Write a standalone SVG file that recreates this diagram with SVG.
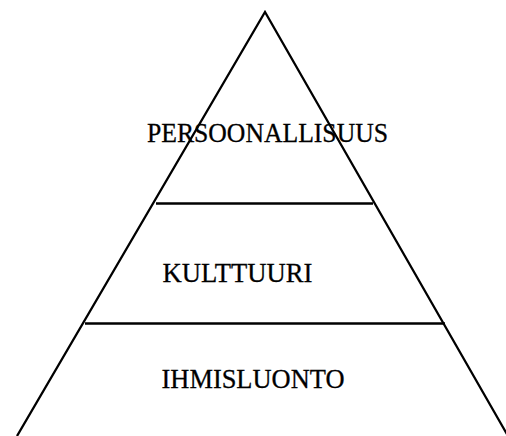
<svg xmlns="http://www.w3.org/2000/svg" width="506" height="436" viewBox="0 0 506 436">
<style>
.ln{stroke:#000;stroke-width:2.3;fill:none}
.t{font-family:"Liberation Serif","Times New Roman",serif;font-size:28px;fill:#000;stroke:#000;stroke-width:0.3}
</style>
<rect width="506" height="436" fill="#fff"/>
<g id="connectors">
<polyline class="ln" points="17,436 265,12 508,436"/>
<line class="ln" x1="156" y1="203.5" x2="373" y2="203.5"/>
<line class="ln" x1="85" y1="323.5" x2="445" y2="323.5"/>
</g>
<g id="persoonallisuus"><text class="t" x="147" y="141.5" textLength="241" lengthAdjust="spacingAndGlyphs">PERSOONALLISUUS</text></g>
<g id="kulttuuri"><text class="t" x="162.5" y="281.5" textLength="150" lengthAdjust="spacingAndGlyphs">KULTTUURI</text></g>
<g id="ihmisluonto"><text class="t" x="161.5" y="388" textLength="183" lengthAdjust="spacingAndGlyphs">IHMISLUONTO</text></g>
</svg>
